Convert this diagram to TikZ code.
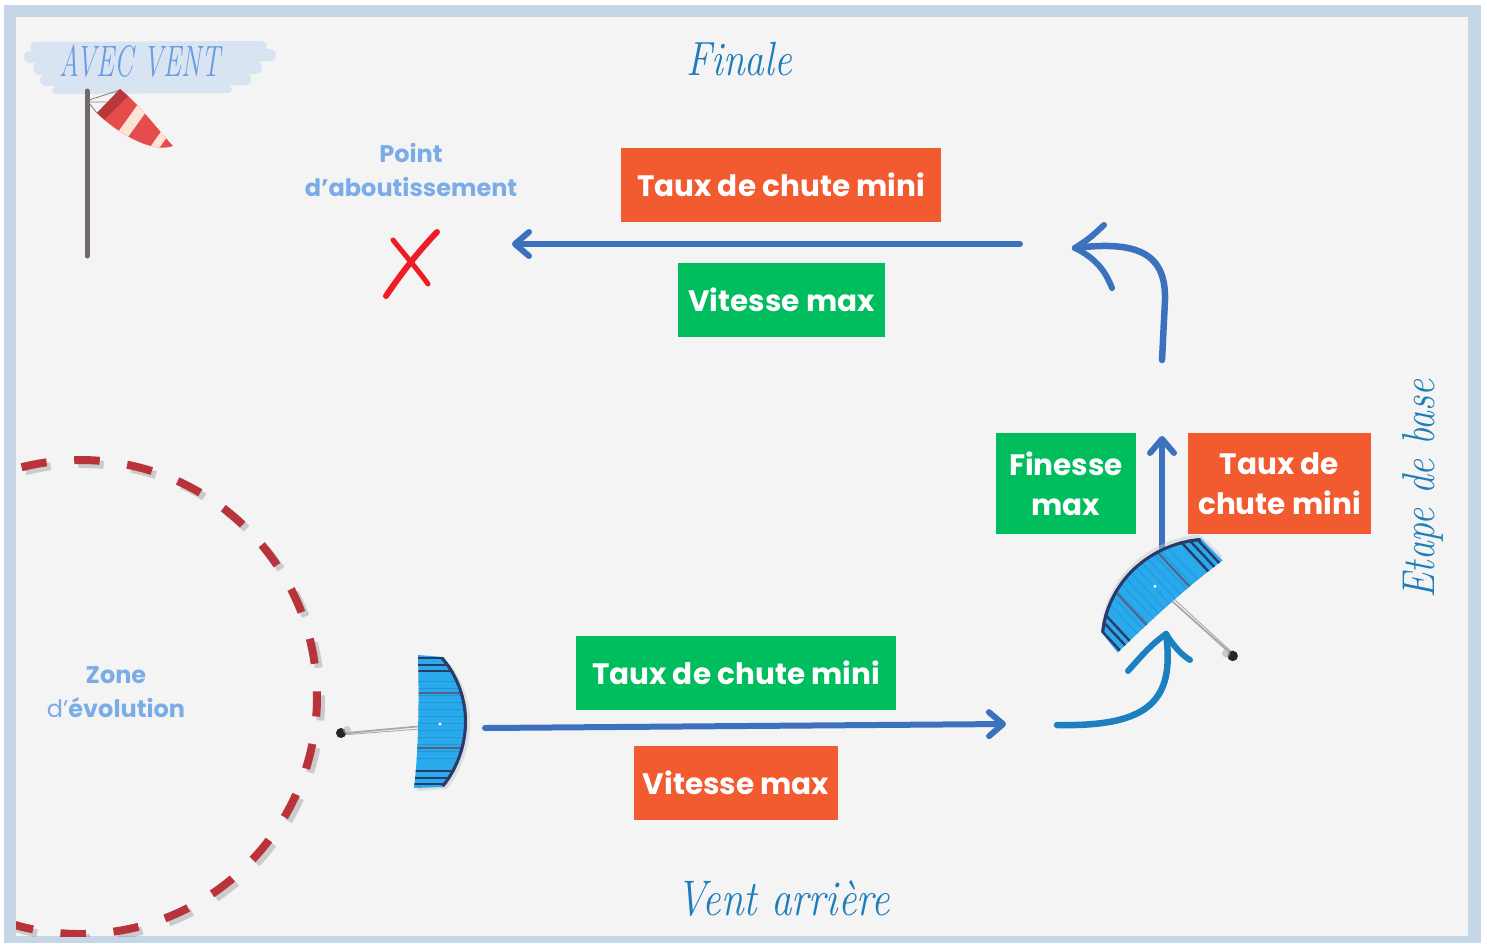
\documentclass[tikz,border=0pt]{standalone}
\usepackage{fontspec}
\newfontfamily\boxfont{Poppins}
\usetikzlibrary{arrows.meta}

\definecolor{frameblue}{HTML}{C5D7E7}
\definecolor{paper}{HTML}{F4F4F4}
\definecolor{boxorange}{HTML}{F25A2F}
\definecolor{boxgreen}{HTML}{00BD5E}
\definecolor{arrowblue}{HTML}{3C71BD}
\definecolor{arrowcyan}{HTML}{1B80BF}
\definecolor{scriptblue}{HTML}{1E7DBA}
\definecolor{noteblue}{HTML}{7AADE8}
\definecolor{capsblue}{HTML}{6A9CE3}
\definecolor{brushblue}{HTML}{D8E4F1}
\definecolor{dashred}{HTML}{B9333B}
\definecolor{polegray}{HTML}{6F6866}
\definecolor{sockred}{HTML}{E64C4C}
\definecolor{sockdark}{HTML}{B73A3A}
\definecolor{sockcream}{HTML}{FCE3D5}
\definecolor{xred}{HTML}{EE1D25}
\definecolor{wingblue}{HTML}{2AA9EC}
\definecolor{wingdark}{HTML}{2B3A66}
\definecolor{wingcell}{HTML}{1F98DA}

\tikzset{
  box/.style={inner sep=0pt, text=white, align=center,
    font=\boxfont\bfseries\fontsize{29.5}{40}\selectfont, minimum height=74pt},
  obox/.style={box, fill=boxorange},
  gbox/.style={box, fill=boxgreen},
  flow/.style={draw=arrowblue, line width=6pt, line cap=round,
    -{Straight Barb[length=14pt,width=24pt,round]}},
  brush/.style={line width=6.5pt, line cap=round, line join=round},
  hand/.style={inner sep=0pt, text=scriptblue, transform shape},
  note/.style={inner sep=0pt, text=noteblue, align=center,
    font=\boxfont\bfseries\fontsize{24}{34}\selectfont},
}

% one paraglider, wing centred on the origin, pilot on the left
\newcommand\drawwing{%
  \draw[gray!70, line width=0.8pt] (-97,12) -- (-20,5) (-97,13) -- (0,4) (-96,14) -- (-18,8);
  \fill[black!85] (-97,12) circle[radius=5];
  \fill[gray!60, opacity=0.6] (-91,9) circle[radius=4];
  \fill[gray!45, opacity=0.45] (-17,-63) -- (8,-61) .. controls (25,-42) and (32,-20) .. (32,2)
     .. controls (32,24) and (25,48) .. (9,68) -- (-21,70) -- cycle;
  \begin{scope}
    \clip (-20,-66) -- (5,-64) .. controls (22,-45) and (29,-20) .. (29,0)
       .. controls (29,22) and (22,46) .. (6,66) -- (-24,67)
       .. controls (-19,25) and (-19,-25) .. (-20,-66) -- cycle;
    \fill[wingblue] (-30,-70) rectangle (35,70);
    \foreach \yy in {-40,-33,...,40} \draw[wingcell, line width=0.8pt] (-30,\yy) -- (35,\yy);
    \foreach \yy in {-63,-56,-50,50,57,63} \draw[wingdark, line width=2.4pt] (-30,\yy) -- (35,\yy);
    \foreach \yy in {-28,27} \draw[wingdark!80, line width=2pt] (-30,\yy) -- (35,\yy);
    \draw[wingdark, line width=6pt] (5,-64) .. controls (22,-45) and (29,-20) .. (29,0)
       .. controls (29,22) and (22,46) .. (6,66);
  \end{scope}
  \fill[white] (2,3) circle[radius=1.6];
}

\begin{document}
\begin{tikzpicture}[x=1pt, y=-1pt]
\useasboundingbox (0,0) rectangle (1487,943);
\fill[white] (0,0) rectangle (1487,943);
\fill[frameblue] (4,5) rectangle (1481,943);
\fill[paper] (16,17) rectangle (1468,936);

% ---------- flight zone, dashed circle ----------
\begin{scope}
  \clip (16,17) rectangle (1468,936);
  \draw[gray, opacity=0.35, line width=8pt, dash pattern=on 25.5pt off 27.7pt, dash phase=6pt]
    (321,701) arc[start angle=0, end angle=360, radius=237];
  \draw[dashred, line width=8pt, dash pattern=on 25.5pt off 27.7pt, dash phase=6pt]
    (317,697) arc[start angle=0, end angle=360, radius=237];
\end{scope}

\node[note] (zone) at (116,692) {Zone\\{\mdseries d’}évolution};

% ---------- windsock ----------
\foreach \a/\b/\c/\d/\w in {35/47/262/46/10, 30/57/270/55/12, 40/68/255/67/14, 46/80/245/79/12, 56/90/228/89/8}
  \draw[brushblue, line width=\w pt, line cap=round] (\a,\b) -- (\c,\d);
\node[hand, text=capsblue, xscale=0.62, font=\itshape\fontsize{44}{46}\selectfont] (wind) at (140,61)
  {AVEC VENT};

\draw[polegray, line width=5pt, line cap=round] (87,91) -- (87,256);
\draw[gray, line width=0.8pt] (89,100) -- (120,90) (89,102) -- (113,102) (89,103) -- (97,113);
\begin{scope}
  \clip (120,89) .. controls (140,105) and (158,130) .. (173,146)
     .. controls (168,148) and (160,148) .. (155,147)
     .. controls (135,143) and (112,128) .. (97,113) -- cycle;
  \fill[sockred] (90,80) rectangle (180,155);
  \fill[sockdark] (97,113) -- (120,89) -- (128,96) -- (103,121) -- cycle;
  \draw[sockcream, line width=11pt] (150,97) -- (114,147);
  \draw[sockcream, line width=8pt] (177,116) -- (143,164);
\end{scope}

% ---------- landing point ----------
\node[note] (point) at (411,170) {Point\\d’aboutissement};
\draw[xred, line width=6pt, line cap=round] (386,296) .. controls (405,268) and (420,250) .. (437,232);
\draw[xred, line width=5pt, line cap=round] (393,240) .. controls (405,255) and (418,270) .. (428,284);

% ---------- leg labels ----------
\node[hand, xscale=0.82, font=\itshape\fontsize{48}{50}\selectfont] (finale) at (739,59) {Finale};
\node[hand, xscale=0.82, font=\itshape\fontsize{50}{52}\selectfont] (va) at (783,899) {Vent arrière};
\node[hand, rotate=90, xscale=0.82, font=\itshape\fontsize{46}{48}\selectfont] (base) at (1423,489) {Etape de base};

% ---------- boxes ----------
\node[obox, minimum width=320pt] (tdc1) at (781,185) {Taux de chute mini};
\node[gbox, minimum width=207pt] (vm1) at (781.5,300) {Vitesse max};
\node[gbox, minimum width=320pt] (tdc2) at (736,673) {Taux de chute mini};
\node[obox, minimum width=204pt] (vm2) at (736,783) {Vitesse max};
\node[gbox, minimum width=140pt, minimum height=101pt] (fin) at (1066,483.5) {Finesse\\max};
\node[obox, minimum width=183pt, minimum height=101pt] (tdc3) at (1279.5,483.5) {Taux de\\chute mini};

% ---------- flight path ----------
\coordinate (fa) at (1020,244);
\coordinate (fb) at (512,244);
\draw[flow] (fa) -- (fb);

\coordinate (va1) at (485,728);
\coordinate (va2) at (1006,724);
\draw[flow] (va1) -- (va2);

\coordinate (ba) at (1162,548);
\coordinate (bb) at (1162,436);
\draw[flow] (ba) -- (bb);

% turn onto final
\coordinate (t1) at (1162,360);
\coordinate (t2) at (1075,248);
\draw[brush, draw=arrowblue] (t1) .. controls (1164,330) .. (1165,300)
   .. controls (1166,255) and (1140,240) .. (t2);
\draw[brush, draw=arrowblue, line width=6pt] (t2) .. controls (1095,258) and (1105,270) .. (1112,288);
\draw[brush, draw=arrowblue, line width=6pt] (t2) .. controls (1090,238) .. (1104,225);

% turn onto base
\coordinate (u1) at (1057,725);
\coordinate (u2) at (1166,634);
\draw[brush, draw=arrowcyan] (u1) .. controls (1150,727) and (1175,700) .. (u2);
\draw[brush, draw=arrowcyan, line width=6pt] (u2) .. controls (1150,645) and (1138,660) .. (1128,671);
\draw[brush, draw=arrowcyan, line width=6pt] (u2) .. controls (1175,648) and (1182,655) .. (1190,660);

% ---------- gliders ----------
\begin{scope}[shift={(438,721)}]
  \drawwing
\end{scope}
\begin{scope}[shift={(1154,590)}, rotate=133, scale=1.05]
  \drawwing
\end{scope}
\end{tikzpicture}
\end{document}
